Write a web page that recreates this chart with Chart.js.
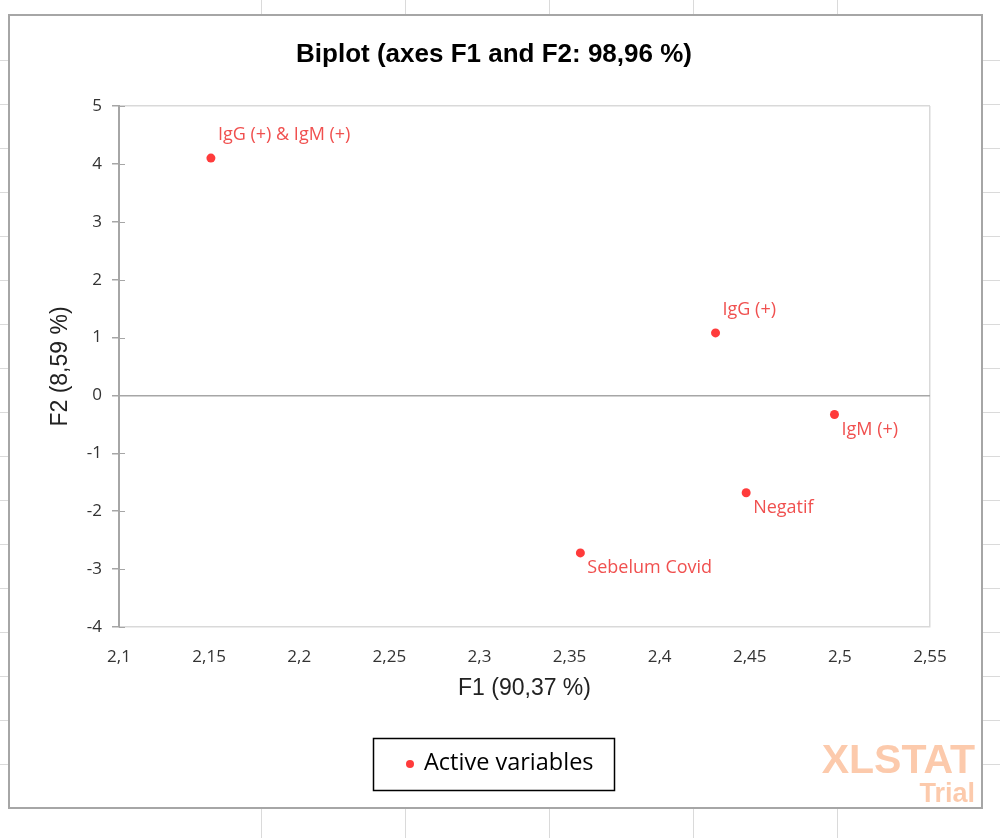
<!DOCTYPE html>
<html lang="en">
<head>
<meta charset="UTF-8">
<title>Biplot (axes F1 and F2: 98,96 %)</title>
<script src="https://cdn.jsdelivr.net/npm/chart.js"></script>
<style>
  html, body { margin: 0; padding: 0; background: #fff; }
  canvas { display: block; }
</style>
</head>
<body>
<canvas id="biplot" width="1000" height="838"></canvas>
<script>
// variables and their coordinates on F1 / F2
const varNames = ["IgG (+) & IgM (+)", "IgG (+)", "IgM (+)", "Negatif", "Sebelum Covid"];
const f1Values = [2.151, 2.431, 2.497, 2.448, 2.356];
const f2Values = [4.10, 1.08, -0.33, -1.68, -2.72];

const xTickValues = [2.1, 2.15, 2.2, 2.25, 2.3, 2.35, 2.4, 2.45, 2.5, 2.55];
const yTickValues = [-4, -3, -2, -1, 0, 1, 2, 3, 4, 5];

const chartTitle = "Biplot (axes F1 and F2: 98,96 %)";
const xTitle = "F1 (90,37 %)";
const yTitle = "F2 (8,59 %)";
const seriesName = "Active variables";

const dotColor = "#ff3b3b";
const labelColor = "#f0504f";

// decimal comma like the original
const fmt = v => String(Math.round(v * 100) / 100).replace(".", ",");

// Excel sheet behind the chart object + the object frame
const excelSheet = {
    id: "excelSheet",
    beforeDraw(chart) {
        const c = chart.ctx;
        c.save();
        c.fillStyle = "#fff";
        c.fillRect(0, 0, chart.width, chart.height);
        c.strokeStyle = "#dadada";
        c.lineWidth = 1;
        [261, 405, 549, 693, 837].forEach(x => {
            c.beginPath();
            c.moveTo(x + 0.5, 0); c.lineTo(x + 0.5, 15);
            c.moveTo(x + 0.5, 809); c.lineTo(x + 0.5, 838);
            c.stroke();
        });
        for (let y = 60; y < 808; y += 44) {
            c.beginPath();
            c.moveTo(0, y + 0.5); c.lineTo(8, y + 0.5);
            c.moveTo(983, y + 0.5); c.lineTo(1000, y + 0.5);
            c.stroke();
        }
        c.strokeStyle = "#a6a6a6";
        c.lineWidth = 2;
        c.strokeRect(9, 15, 973, 793);
        c.restore();
    }
};

// title is centred on the chart object, not on the plot area
const objectTitle = {
    id: "objectTitle",
    afterDraw(chart) {
        const c = chart.ctx;
        c.save();
        c.fillStyle = "#000";
        c.font = "bold 26px 'Liberation Sans', Arial";
        c.textAlign = "center";
        c.textBaseline = "middle";
        c.fillText(chartTitle, 494, 55);
        c.restore();
    }
};

// small tick marks on the inner side of the F2 axis
const innerTicks = {
    id: "innerTicks",
    afterDraw(chart) {
        const y = chart.scales.y;
        const c = chart.ctx;
        const x0 = chart.chartArea.left;
        c.save();
        c.strokeStyle = "#a6a6a6";
        c.lineWidth = 1;
        yTickValues.forEach(v => {
            const py = Math.round(y.getPixelForValue(v)) + 0.5;
            c.beginPath();
            c.moveTo(x0, py);
            c.lineTo(x0 + 6, py);
            c.stroke();
        });
        c.restore();
    }
};

// names next to each point
const pointLabels = {
    id: "pointLabels",
    afterDatasetsDraw(chart) {
        const meta = chart.getDatasetMeta(0);
        const c = chart.ctx;
        c.save();
        c.font = "18px 'Open Sans'";
        c.fillStyle = labelColor;
        c.textAlign = "left";
        c.textBaseline = "middle";
        meta.data.forEach((pt, i) => {
            const above = f2Values[i] > 0;
            c.fillText(varNames[i], pt.x + 7, pt.y + (above ? -23 : 15));
        });
        c.restore();
    }
};

// boxed legend under the plot
const boxedLegend = {
    id: "boxedLegend",
    afterDraw(chart) {
        const c = chart.ctx;
        c.save();
        c.strokeStyle = "#000";
        c.lineWidth = 1.5;
        c.strokeRect(373.5, 738.5, 241, 52);
        c.fillStyle = dotColor;
        c.beginPath();
        c.arc(410, 764, 4, 0, Math.PI * 2);
        c.fill();
        c.fillStyle = "#000";
        c.font = "23.5px 'Open Sans'";
        c.textBaseline = "middle";
        c.fillText(chart.data.datasets[0].label, 424, 763);
        c.restore();
    }
};

// trial watermark
const watermark = {
    id: "watermark",
    afterDraw(chart) {
        const c = chart.ctx;
        c.save();
        c.fillStyle = "#fccaac";
        c.textAlign = "right";
        c.textBaseline = "middle";
        c.font = "bold 41px 'Liberation Sans'";
        c.fillText("XLSTAT", 975, 762);
        c.font = "bold 27px 'Liberation Sans'";
        c.fillText("Trial", 975, 795);
        c.restore();
    }
};

new Chart(document.getElementById("biplot"), {
    type: "scatter",
    data: {
        datasets: [{
            label: seriesName,
            data: f1Values.map((x, i) => ({ x: x, y: f2Values[i] })),
            backgroundColor: dotColor,
            borderWidth: 0,
            pointRadius: 4.5,
            pointHoverRadius: 4.5
        }]
    },
    options: {
        responsive: false,
        animation: false,
        events: [],
        layout: { padding: { left: 0, right: 70, top: 106, bottom: 131 } },
        plugins: {
            legend: { display: false },
            tooltip: { enabled: false },
            title: { display: false }
        },
        scales: {
            x: {
                type: "linear",
                position: "bottom",
                min: 2.1,
                max: 2.55,
                afterBuildTicks: s => { s.ticks = xTickValues.map(v => ({ value: v })); },
                afterFit: s => { s.height = 80; },
                ticks: {
                    padding: 20,
                    maxRotation: 0,
                    autoSkip: false,
                    color: "#333",
                    font: { family: "'Open Sans'", size: 17 },
                    callback: v => fmt(v)
                },
                grid: {
                    drawTicks: false,
                    lineWidth: 1.5,
                    color: ctx => (ctx.tick && ctx.tick.value === 2.55) ? "#d9d9d9" : "transparent"
                },
                border: { color: "#d9d9d9", width: 1.5 },
                title: {
                    display: true,
                    text: xTitle,
                    color: "#222",
                    font: { family: "'Liberation Sans', Arial", size: 23, lineHeight: 1.2 },
                    padding: { top: 0, bottom: 5 }
                }
            },
            y: {
                min: -4,
                max: 5,
                afterBuildTicks: s => { s.ticks = yTickValues.map(v => ({ value: v })); },
                afterFit: s => { s.width = 119; },
                ticks: {
                    padding: 10,
                    color: "#333",
                    font: { family: "'Open Sans'", size: 17 },
                    callback: v => fmt(v)
                },
                grid: {
                    tickLength: 7,
                    tickColor: "#a6a6a6",
                    lineWidth: 1.5,
                    color: ctx => {
                        if (!ctx.tick) return "transparent";
                        if (ctx.tick.value === 0) return "#a6a6a6";
                        if (ctx.tick.value === 5) return "#d9d9d9";
                        return "transparent";
                    }
                },
                border: { color: "#a6a6a6", width: 2 },
                title: {
                    display: true,
                    text: yTitle,
                    color: "#222",
                    font: { family: "'Liberation Sans', Arial", size: 23, lineHeight: 1.2 },
                    padding: { top: 47, bottom: 0 }
                }
            }
        }
    },
    plugins: [excelSheet, objectTitle, innerTicks, pointLabels, boxedLegend, watermark]
});
</script>
</body>
</html>
